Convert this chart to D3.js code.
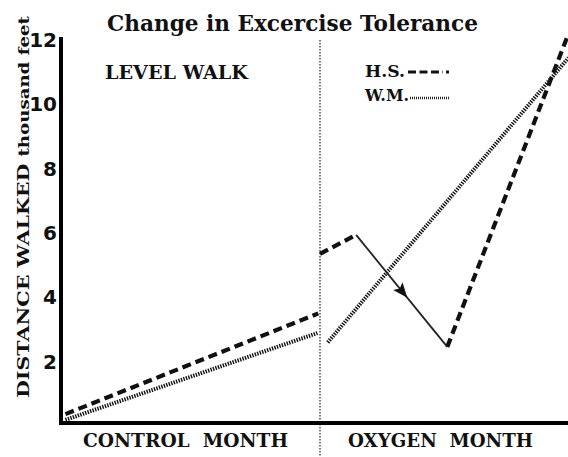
<!DOCTYPE html>
<html><head><meta charset="utf-8">
<script src="https://cdn.jsdelivr.net/npm/d3@7"></script>
<style>body{margin:0;background:#fff}svg{display:block}</style>
</head><body>
<svg id="c" width="568" height="457"></svg>
<script>
// Data (x = day of the two-month study, y = thousand feet walked)
const yTicks = [2, 4, 6, 8, 10, 12];
const months = ["CONTROL  MONTH", "OXYGEN  MONTH"];
const hsControl = [[0.4, 0.37], [29.8, 3.5]];
const wmControl = [[0.4, 0.19], [29.7, 2.89]];
const hsOxygenA = [[30, 5.35], [34.2, 5.94]];
const hsArrow   = [[34.2, 5.94], [44.8, 2.46]];
const hsOxygenB = [[44.8, 2.46], [58.9, 12.2]];
const wmOxygen  = [[30.9, 2.6], [58.9, 11.45]];

const svg = d3.select("#c");
const x = d3.scaleLinear().domain([0, 60]).range([62, 578]);
const y = d3.scaleLinear().domain([0, 12]).range([426, 40]);
const line = d3.line().x(d => x(d[0])).y(d => y(d[1]));
const ink = "#111";

// divider
svg.append("line").attr("x1", x(30)).attr("x2", x(30)).attr("y1", 40).attr("y2", 456)
  .attr("stroke", "#333").attr("stroke-width", 1.3).attr("stroke-dasharray", "1.5,1.5");

// series
const dashed = {stroke: ink, w: 4.2, dash: "9,5"};
const dotted = {stroke: "#111", w: 4, dash: "1.4,1.2"};
function draw(data, s) {
  svg.append("path").attr("d", line(data)).attr("fill", "none")
    .attr("stroke", s.stroke).attr("stroke-width", s.w).attr("stroke-dasharray", s.dash);
}
draw(wmControl, dotted);
draw(wmOxygen, dotted);
draw(hsControl, dashed);
draw(hsOxygenA, dashed);
draw(hsOxygenB, dashed);
svg.append("path").attr("d", line(hsArrow)).attr("fill", "none")
  .attr("stroke", "#222").attr("stroke-width", 1.8);
// arrowhead in middle of arrow segment
{
  const p0 = [x(hsArrow[0][0]), y(hsArrow[0][1])], p1 = [x(hsArrow[1][0]), y(hsArrow[1][1])];
  const t = 0.52, cx = p0[0] + (p1[0]-p0[0])*t, cy = p0[1] + (p1[1]-p0[1])*t;
  const ang = Math.atan2(p1[1]-p0[1], p1[0]-p0[0]) * 180 / Math.PI;
  svg.append("path").attr("d", "M6,0 L-9,-6 L-6,0 L-9,6 Z").attr("fill", "#111")
    .attr("transform", `translate(${cx},${cy}) rotate(${ang})`);
}

// axes
svg.append("line").attr("x1", 61).attr("x2", 61).attr("y1", 37).attr("y2", 425)
  .attr("stroke", "#000").attr("stroke-width", 4);
svg.append("line").attr("x1", 59).attr("x2", 568).attr("y1", 423).attr("y2", 423)
  .attr("stroke", "#000").attr("stroke-width", 4);

// y tick labels
const yAxis = d3.axisLeft(y).tickValues(yTicks).tickSize(0).tickPadding(0);
const ga = svg.append("g").attr("transform", "translate(57,0)").call(yAxis);
ga.select(".domain").remove();
ga.selectAll("text").attr("font-family", "DejaVu Sans").attr("font-weight", "bold")
  .attr("font-size", 20).attr("fill", "#111");

function label(txt, xx, yy, len, size) {
  return svg.append("text").attr("x", xx).attr("y", yy).attr("textLength", len)
    .attr("lengthAdjust", "spacingAndGlyphs")
    .attr("font-family", "DejaVu Serif").attr("font-weight", "bold").attr("font-size", size)
    .attr("fill", "#111").style("white-space", "pre").text(txt);
}
// title
label("Change in Excercise Tolerance", 107, 31, 371, 22);
// level walk
label("LEVEL WALK", 105, 79, 143, 18);
// legend
label("H.S.", 365, 77, 40, 17);
svg.append("line").attr("x1", 408).attr("x2", 443).attr("y1", 72).attr("y2", 72)
  .attr("stroke", ink).attr("stroke-width", 3).attr("stroke-dasharray", "8,3.5");
svg.append("rect").attr("x", 446).attr("y", 70.5).attr("width", 3).attr("height", 3).attr("fill", ink);
label("W.M.", 365, 101, 44, 17);
svg.append("line").attr("x1", 410).attr("x2", 450).attr("y1", 98).attr("y2", 98)
  .attr("stroke", "#222").attr("stroke-width", 2.5).attr("stroke-dasharray", "1,1");

// month labels
months.forEach((m, i) => label(m, i === 0 ? 83 : 348, 447, i === 0 ? 205 : 185, 19));

// y axis title
const yt = svg.append("text").attr("transform", "translate(29,398) rotate(-90)")
  .attr("font-family", "DejaVu Serif").attr("fill", "#111")
  .attr("textLength", 382).attr("lengthAdjust", "spacingAndGlyphs");
yt.append("tspan").attr("font-weight", "bold").attr("font-size", 17).text("DISTANCE WALKED ");
yt.append("tspan").attr("font-weight", "bold").attr("font-size", 15).text("thousand feet");
</script>
</body></html>
